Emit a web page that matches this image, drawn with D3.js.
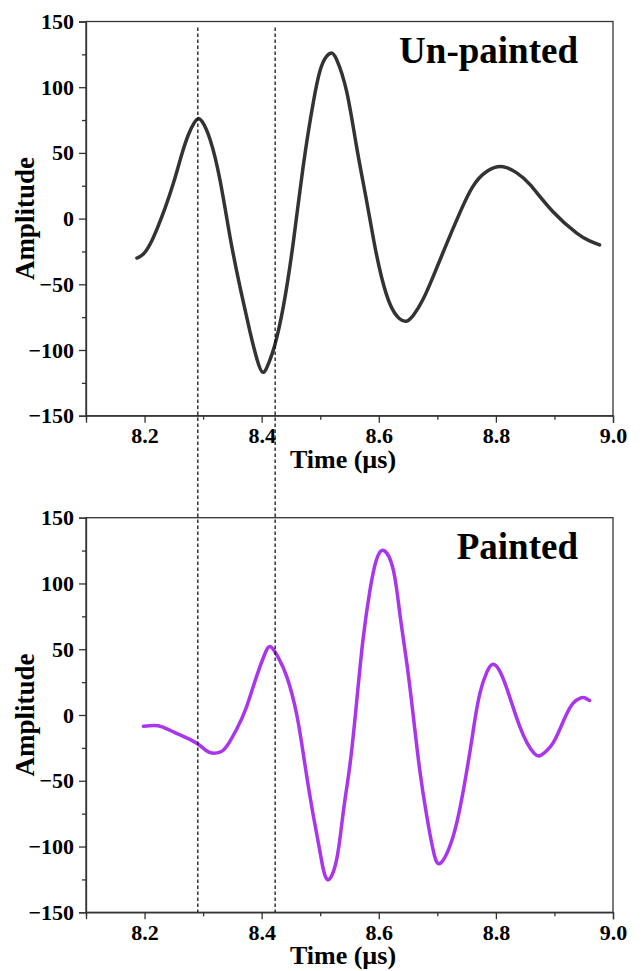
<!DOCTYPE html>
<html>
<head>
<meta charset="utf-8">
<script src="https://cdn.jsdelivr.net/npm/d3@7"></script>
<style>
  body { margin: 0; background: #fff; }
  text { font-family: "Liberation Serif", "Times New Roman", serif; font-weight: bold; fill: #000; }
</style>
</head>
<body>
<svg width="643" height="971"></svg>
<script>
  // un-painted signal (time in µs, amplitude)
  var unpaintedT = [8.187, 8.198, 8.210, 8.222, 8.235, 8.250, 8.263, 8.275, 8.285, 8.291, 8.298, 8.312, 8.329, 8.346, 8.363, 8.380, 8.392, 8.402, 8.412, 8.422, 8.437, 8.454, 8.471, 8.488, 8.500, 8.510, 8.519, 8.528, 8.545, 8.562, 8.579, 8.592, 8.605, 8.620, 8.635, 8.648, 8.660, 8.675, 8.693, 8.716, 8.738, 8.760, 8.785, 8.812, 8.835, 8.858, 8.898, 8.938, 8.960, 8.977]
  var unpaintedA = [-30, -27, -19, -7, 8, 28, 48, 64, 73, 76, 74, 60, 29, -14, -52, -86, -107, -117, -110, -97, -67, -18, 40, 88, 113, 123, 126, 121, 97, 55, 14, -18, -45, -66, -76, -78, -73, -62, -44, -19, 4, 24, 36, 39.5, 35, 26, 5, -11, -17, -20]

  // painted signal
  var paintedT = [8.198, 8.215, 8.230, 8.250, 8.270, 8.291, 8.305, 8.317, 8.330, 8.340, 8.357, 8.374, 8.391, 8.405, 8.415, 8.428, 8.443, 8.460, 8.474, 8.488, 8.500, 8.512, 8.528, 8.539, 8.551, 8.562, 8.573, 8.585, 8.596, 8.609, 8.625, 8.636, 8.648, 8.659, 8.670, 8.682, 8.693, 8.704, 8.722, 8.739, 8.756, 8.764, 8.773, 8.784, 8.795, 8.807, 8.818, 8.830, 8.841, 8.853, 8.865, 8.875, 8.887, 8.898, 8.909, 8.920, 8.932, 8.945, 8.952, 8.960]
  var paintedA = [-8.5, -8, -9, -13, -17, -22, -27, -29, -28, -24, -11, 6, 29, 46, 52, 44, 29, 0, -38, -76, -105, -125, -110, -75, -37, 9, 57, 95, 118, 125, 110, 77, 39, -1, -42, -77, -103, -113, -99, -70, -27, -4, 17, 32, 38.5, 33, 21, 5, -9, -21, -29, -31, -27, -21, -11, 0, 9, 13, 13, 11]

  // reference time markers (dashed lines)
  var markers = [8.291, 8.423]

  var xTicks = [8.2, 8.4, 8.6, 8.8, 9.0]
  var yTicks = [-150, -100, -50, 0, 50, 100, 150]

  var svg = d3.select('svg')

  var x = d3.scaleLinear().domain([8.1, 9.0]).range([86, 613])

  var panels = [
    { label: 'Un-painted', t: unpaintedT, a: unpaintedA, color: '#333333', top: 21.5, bottom: 415.7 },
    { label: 'Painted', t: paintedT, a: paintedA, color: '#a935ee', top: 517.7, bottom: 912.3 }
  ]

  panels.forEach(function(p) {
    var y = d3.scaleLinear().domain([-150, 150]).range([p.bottom, p.top])
    p.y = y
    var g = svg.append('g')

    // frame
    g.append('rect')
      .attr('x', x(8.1)).attr('y', y(150))
      .attr('width', x(9.0) - x(8.1)).attr('height', y(-150) - y(150))
      .attr('fill', 'none').attr('stroke', '#333').attr('stroke-width', 1.3)

    // minor ticks
    g.append('g')
      .attr('transform', 'translate(0,' + y(-150) + ')')
      .call(d3.axisBottom(x).tickValues(d3.range(8.1, 9.0, 0.2)).tickSize(4).tickFormat(''))
      .call(function(s) { s.select('.domain').remove() })
    g.append('g')
      .attr('transform', 'translate(' + x(8.1) + ',0)')
      .call(d3.axisLeft(y).tickValues(d3.range(-125, 150, 50)).tickSize(4).tickFormat(''))
      .call(function(s) { s.select('.domain').remove() })

    // major axes
    g.append('g')
      .attr('transform', 'translate(0,' + y(-150) + ')')
      .call(d3.axisBottom(x).tickValues(xTicks).tickSize(7).tickPadding(5).tickFormat(d3.format('.1f')))
    g.append('g')
      .attr('transform', 'translate(' + x(8.1) + ',0)')
      .call(d3.axisLeft(y).tickValues(yTicks).tickSize(7).tickPadding(5))

    g.selectAll('.tick line').attr('stroke', '#333').attr('stroke-width', 1.3)
    g.selectAll('.domain').attr('stroke', '#333').attr('stroke-width', 1.3)
    g.selectAll('.tick text').style('font-size', '22px')
      .style('font-family', '"Liberation Serif", serif').style('font-weight', 'bold').attr('fill', '#000')

    // axis titles
    g.append('text')
      .attr('x', 343).attr('y', y(-150) + 52)
      .attr('text-anchor', 'middle').style('font-size', '26px')
      .text('Time (µs)')
    g.append('text')
      .attr('transform', 'translate(34,' + y(0) + ') rotate(-90)')
      .attr('text-anchor', 'middle').style('font-size', '27px')
      .text('Amplitude')

    // panel label
    g.append('text')
      .attr('x', 578).attr('y', y(150) + 41)
      .attr('text-anchor', 'end').style('font-size', '37px')
      .text(p.label)

    // signal
    var line = d3.line()
      .x(function(d, i) { return x(p.t[i]) })
      .y(function(d) { return y(d) })
      .curve(d3.curveNatural)

    g.append('path')
      .datum(p.a)
      .attr('d', line)
      .attr('fill', 'none')
      .attr('stroke', p.color)
      .attr('stroke-width', 3.5)
      .attr('stroke-linejoin', 'round')
      .attr('stroke-linecap', 'round')
  })

  // dashed markers running through both panels
  svg.selectAll('line.marker')
    .data(markers)
    .enter().append('line')
    .attr('class', 'marker')
    .attr('x1', function(d) { return x(d) })
    .attr('x2', function(d) { return x(d) })
    .attr('y1', panels[0].y(145.5))
    .attr('y2', panels[1].y(-150))
    .attr('stroke', '#000')
    .attr('stroke-width', 1.2)
    .attr('stroke-dasharray', '3.5,2.5')
</script>
</body>
</html>
